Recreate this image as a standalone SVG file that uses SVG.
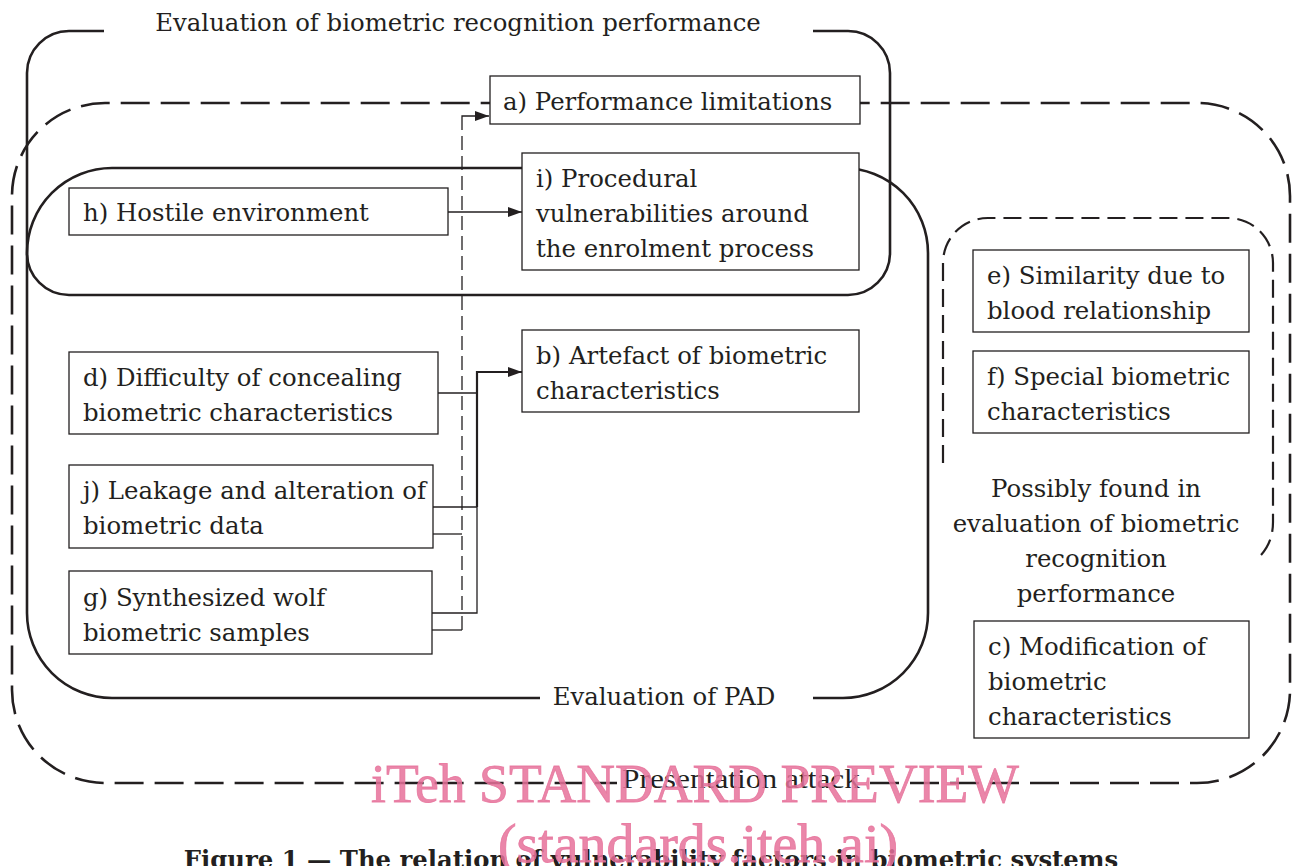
<svg xmlns="http://www.w3.org/2000/svg" width="1293" height="866" viewBox="0 0 1293 866">
<defs>
<style>
.bg{fill:#ffffff}
.cont{fill:none;stroke:#231f20;stroke-width:2.6}
.dashO{fill:none;stroke:#231f20;stroke-width:2.6;stroke-dasharray:29 11}
.dashI{fill:none;stroke:#231f20;stroke-width:2.2;stroke-dasharray:18 8}
.box{fill:#ffffff;stroke:#231f20;stroke-width:1.3}
.t{font-family:"DejaVu Serif","Liberation Serif",serif;font-size:24.4px;fill:#231f20}
.tc{text-anchor:middle}
.pa{font-family:"Liberation Serif",serif;font-size:28px;fill:#231f20;text-anchor:middle}
.ln{fill:none;stroke:#231f20;stroke-width:1.3}
.lnB{fill:none;stroke:#231f20;stroke-width:2.2}
.lnD{fill:none;stroke:#231f20;stroke-width:1.3;stroke-dasharray:14 6}
.wm{font-family:"Liberation Serif",serif;font-size:55px;fill:#e6719a;fill-opacity:0.85;stroke:#e6719a;stroke-opacity:0.85;stroke-width:0.8;text-anchor:middle}
.cap{font-family:"DejaVu Serif","Liberation Serif",serif;font-size:24.3px;font-weight:bold;fill:#231f20;text-anchor:middle}
</style>
<marker id="ah" viewBox="0 0 14 10" refX="14" refY="5" markerWidth="14" markerHeight="10" markerUnits="userSpaceOnUse" orient="auto">
<path d="M0 0 L14 5 L0 10 Z" fill="#231f20"/>
</marker>
</defs>
<rect class="bg" x="0" y="0" width="1293" height="866"/>

<g id="containers">
<g id="presentation-attack">
<path class="dashO" d="M870 783 H1197 A93 93 0 0 0 1290 690 V196 A93 93 0 0 0 1197 103 H105 A93 93 0 0 0 12 196 V690 A93 93 0 0 0 105 783 H617"/>
<text class="pa" x="741" y="788" textLength="238" lengthAdjust="spacingAndGlyphs">Presentation attack</text>
</g>
<g id="eval-recognition">
<path class="cont" d="M813 31 H848 A42 42 0 0 1 890 73 V253 A42 42 0 0 1 848 295 H69 A42 42 0 0 1 27 253 V73 A42 42 0 0 1 69 31 H104"/>
<text class="t tc" x="458" y="31">Evaluation of biometric recognition performance</text>
</g>
<g id="eval-pad">
<path class="cont" d="M540 698 H112 A85 85 0 0 1 27 613 V253 A85 85 0 0 1 112 168 H843 A85 85 0 0 1 928 253 V613 A85 85 0 0 1 843 698 H813"/>
<text class="t tc" x="664" y="705">Evaluation of PAD</text>
</g>
<g id="possibly-found">
<path class="dashI" d="M943 463 V263 A45 45 0 0 1 988 218 H1228 A45 45 0 0 1 1273 263 V522 Q1273 544 1258 558"/>
<text class="t tc" x="1096" y="497">Possibly found in</text>
<text class="t tc" x="1096" y="532">evaluation of biometric</text>
<text class="t tc" x="1096" y="567">recognition</text>
<text class="t tc" x="1096" y="602">performance</text>
</g>
</g>

<g id="connectors">
<path class="ln" d="M448 212 H522" marker-end="url(#ah)"/>
<path class="ln" d="M438 393 H477"/>
<path class="ln" d="M433 507 H477"/>
<path class="ln" d="M432 613 H477 V507"/>
<path class="lnB" d="M477 507 V372 H522" marker-end="url(#ah)"/>
<path class="ln" d="M433 534 H462"/>
<path class="ln" d="M432 630 H462"/>
<path class="lnD" d="M462 630 V128"/>
<path class="ln" d="M462 128 V116 H489" marker-end="url(#ah)"/>
</g>

<g id="node-a">
<rect class="box" x="490" y="76" width="370" height="48"/>
<text class="t" x="503" y="110">a) Performance limitations</text>
</g>
<g id="node-i">
<rect class="box" x="522" y="153" width="337" height="117"/>
<text class="t" x="536" y="187">i) Procedural</text>
<text class="t" x="536" y="222">vulnerabilities around</text>
<text class="t" x="536" y="257">the enrolment process</text>
</g>
<g id="node-h">
<rect class="box" x="69" y="188" width="379" height="47"/>
<text class="t" x="83" y="221">h) Hostile environment</text>
</g>
<g id="node-b">
<rect class="box" x="522" y="330" width="337" height="82"/>
<text class="t" x="536" y="364">b) Artefact of biometric</text>
<text class="t" x="536" y="399">characteristics</text>
</g>
<g id="node-d">
<rect class="box" x="69" y="352" width="369" height="82"/>
<text class="t" x="83" y="386">d) Difficulty of concealing</text>
<text class="t" x="83" y="421">biometric characteristics</text>
</g>
<g id="node-j">
<rect class="box" x="69" y="465" width="364" height="83"/>
<text class="t" x="83" y="499">j) Leakage and alteration of</text>
<text class="t" x="83" y="534">biometric data</text>
</g>
<g id="node-g">
<rect class="box" x="69" y="571" width="363" height="83"/>
<text class="t" x="83" y="606">g) Synthesized wolf</text>
<text class="t" x="83" y="641">biometric samples</text>
</g>
<g id="node-e">
<rect class="box" x="973" y="250" width="276" height="82"/>
<text class="t" x="987" y="284">e) Similarity due to</text>
<text class="t" x="987" y="319">blood relationship</text>
</g>
<g id="node-f">
<rect class="box" x="973" y="351" width="276" height="82"/>
<text class="t" x="987" y="385">f) Special biometric</text>
<text class="t" x="987" y="420">characteristics</text>
</g>
<g id="node-c">
<rect class="box" x="974" y="621" width="275" height="117"/>
<text class="t" x="988" y="655">c) Modification of</text>
<text class="t" x="988" y="690">biometric</text>
<text class="t" x="988" y="725">characteristics</text>
</g>

<text class="cap" x="651" y="868">Figure 1 — The relation of vulnerability factors in biometric systems</text>
<text class="wm" x="695" y="802" textLength="648" lengthAdjust="spacingAndGlyphs">iTeh STANDARD PREVIEW</text>
<text class="wm" x="698" y="862" textLength="400" lengthAdjust="spacingAndGlyphs">(standards.iteh.ai)</text>
</svg>
